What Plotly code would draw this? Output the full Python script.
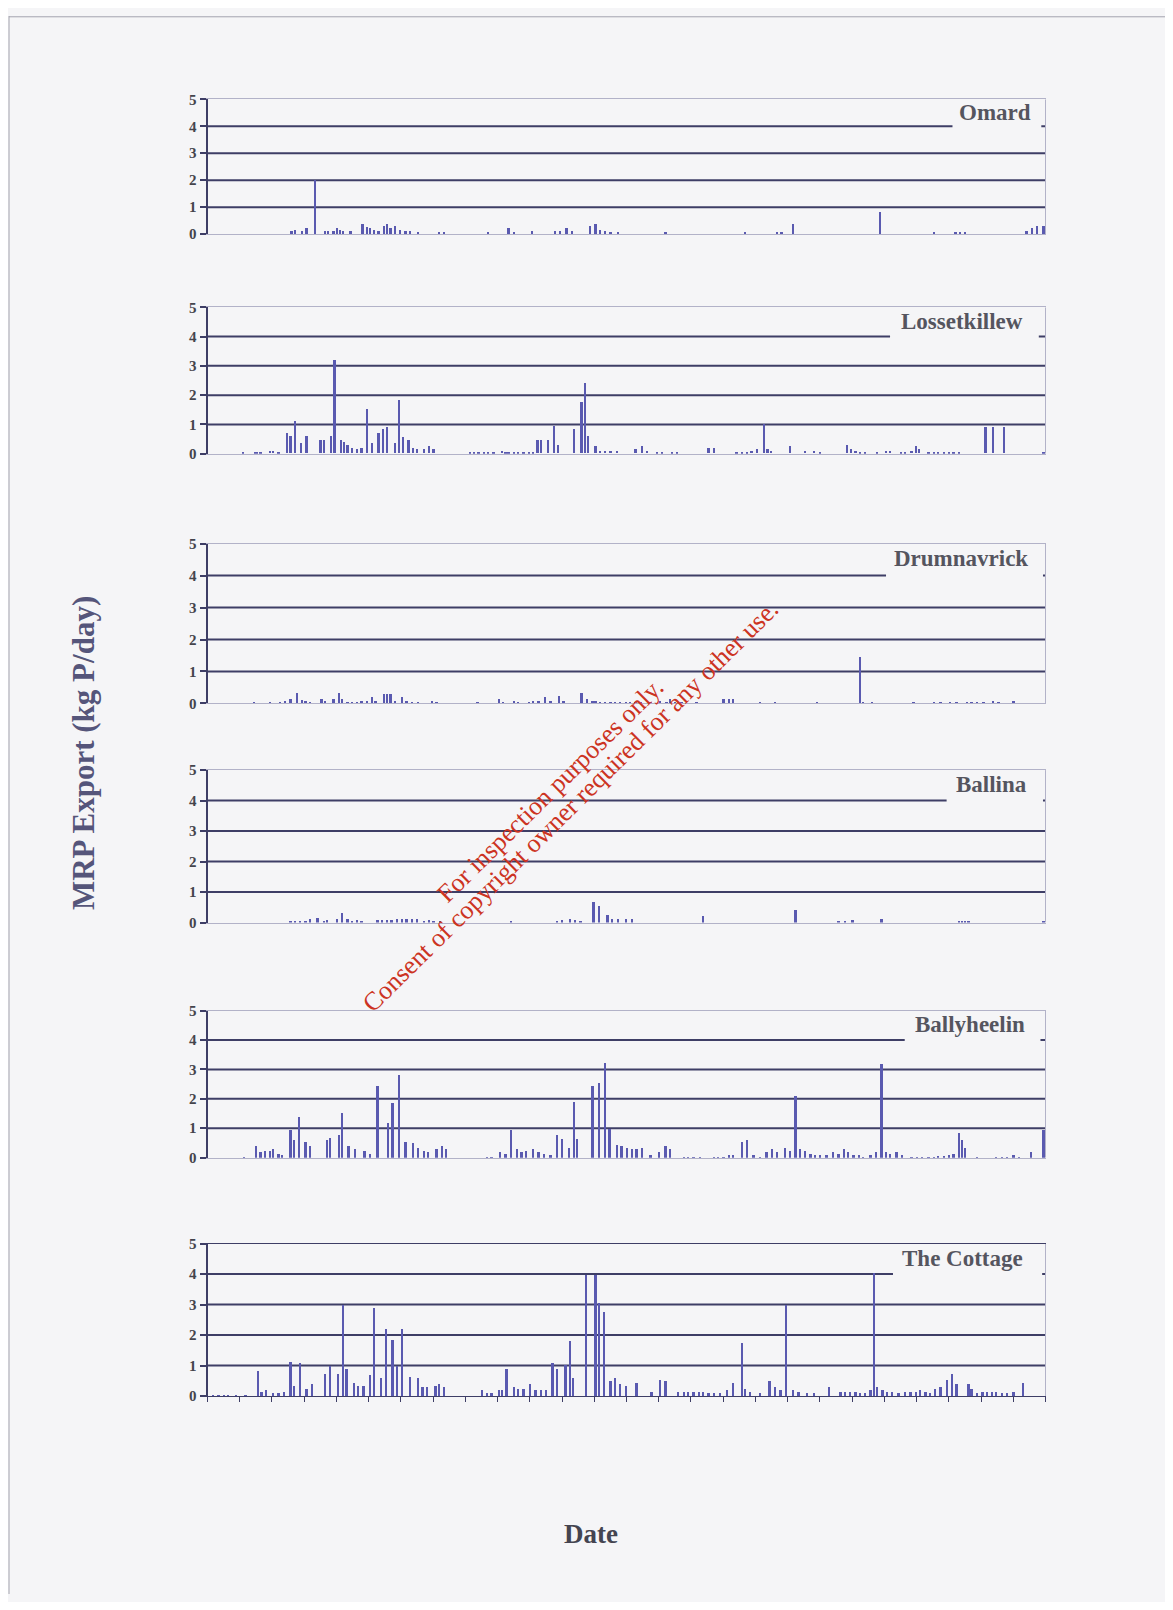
import plotly.graph_objects as go

# ---------------- data (day index, MRP export kg P/day) ----------------
SITES = ["Omard", "Lossetkillew", "Drumnavrick", "Ballina", "Ballyheelin", "The Cottage"]

OMARD = [(78,0.1),(81,0.15),(88,0.1),(92,0.2),(100,2.0),(109,0.1),(112,0.1),(117,0.1),(120,0.2),(123,0.15),
         (126,0.1),(133,0.1),(144,0.35),(148,0.25),(151,0.2),(155,0.15),(159,0.1),(164,0.3),(167,0.35),(170,0.2),
         (174,0.3),(179,0.15),(184,0.1),(188,0.1),(196,0.05),(215,0.05),(220,0.05),(261,0.05),(280,0.2),(285,0.05),
         (302,0.1),(323,0.1),(328,0.1),(334,0.2),(339,0.1),(356,0.3),(361,0.35),(365,0.15),(370,0.1),(375,0.05),
         (382,0.05),(426,0.05),(500,0.05),(530,0.05),(534,0.05),(545,0.37),(626,0.8),(676,0.05),(696,0.05),(700,0.05),
         (705,0.05),(762,0.1),(767,0.2),(772,0.3),(778,0.3)]

LOSSETKILLEW = [(33,0.03),(44,0.05),(46,0.05),(49,0.05),(58,0.1),(61,0.08),(66,0.05),(74,0.7),(77,0.6),(81,1.12),
                (87,0.35),(92,0.6),(105,0.45),(108,0.45),(115,0.6),(118,3.18),(124,0.45),(127,0.4),(130,0.3),(134,0.2),
                (139,0.15),(143,0.2),(148,1.52),(153,0.35),(159,0.7),(163,0.85),(167,0.9),(174,0.35),(178,1.82),(182,0.55),
                (187,0.45),(191,0.2),(195,0.15),(201,0.15),(206,0.25),(210,0.15),(244,0.05),(248,0.05),(252,0.05),(257,0.05),
                (261,0.05),(266,0.05),(274,0.1),(277,0.05),(280,0.05),(285,0.05),(289,0.05),(294,0.05),(299,0.05),(303,0.05),
                (307,0.45),(310,0.45),(317,0.45),(322,0.93),(326,0.3),(341,0.85),(348,1.76),(351,2.4),(354,0.6),(361,0.25),
                (365,0.1),(370,0.1),(375,0.1),(381,0.1),(398,0.15),(404,0.25),(409,0.1),(418,0.05),(423,0.05),(432,0.05),
                (437,0.05),(466,0.2),(471,0.2),(492,0.05),(497,0.05),(502,0.05),(506,0.1),(511,0.15),(518,1.0),(521,0.15),
                (524,0.1),(542,0.25),(556,0.1),(564,0.1),(570,0.05),(595,0.3),(599,0.15),(603,0.1),(607,0.05),(612,0.05),
                (623,0.05),(631,0.08),(635,0.08),(645,0.05),(649,0.05),(655,0.1),(659,0.25),(662,0.15),(671,0.05),(676,0.05),
                (680,0.05),(685,0.05),(690,0.05),(694,0.05),(699,0.05),(724,0.9),(731,0.9),(741,0.9),(778,0.05)]

DRUMNAVRICK = [(43,0.03),(58,0.03),(67,0.05),(72,0.08),(77,0.15),(83,0.35),(88,0.12),(91,0.1),(95,0.05),(106,0.15),
               (109,0.1),(117,0.15),(122,0.35),(125,0.15),(130,0.05),(134,0.05),(139,0.05),(143,0.1),(148,0.1),(153,0.2),
               (156,0.1),(164,0.3),(167,0.3),(170,0.3),(174,0.1),(181,0.2),(185,0.1),(190,0.05),(196,0.05),(209,0.1),
               (213,0.05),(251,0.03),(271,0.15),(275,0.03),(285,0.1),(289,0.05),(299,0.05),(303,0.1),(308,0.1),(314,0.2),
               (319,0.1),(327,0.25),(331,0.1),(348,0.35),(353,0.15),(358,0.1),(361,0.1),(365,0.05),(370,0.05),(375,0.05),
               (379,0.05),(384,0.05),(389,0.05),(393,0.05),(398,0.05),(403,0.05),(412,0.05),(421,0.1),(427,0.05),(430,0.15),
               (435,0.05),(441,0.05),(455,0.05),(480,0.15),(485,0.15),(489,0.15),(514,0.03),(528,0.05),(567,0.03),(607,1.45),
               (610,0.05),(618,0.03),(657,0.03),(676,0.05),(682,0.03),(691,0.05),(697,0.05),(707,0.05),(711,0.05),(716,0.05),
               (722,0.05),(731,0.1),(736,0.05),(750,0.1)]

BALLINA = [(77,0.05),(81,0.05),(86,0.05),(91,0.05),(95,0.1),(102,0.15),(108,0.05),(111,0.08),(120,0.1),(125,0.32),
           (130,0.1),(134,0.05),(139,0.08),(143,0.05),(158,0.08),(162,0.08),(167,0.08),(171,0.08),(176,0.1),(181,0.1),
           (185,0.1),(190,0.1),(195,0.1),(201,0.05),(206,0.08),(210,0.05),(216,0.03),(282,0.03),(325,0.05),(330,0.08),
           (337,0.1),(342,0.08),(347,0.05),(359,0.67),(364,0.55),(372,0.25),(376,0.1),(382,0.1),(389,0.1),(395,0.1),
           (461,0.2),(547,0.42),(587,0.05),(593,0.05),(600,0.08),(627,0.1),(699,0.05),(702,0.05),(705,0.05),(708,0.05),
           (778,0.05)]

BALLYHEELIN = [(34,0.05),(45,0.4),(49,0.2),(53,0.25),(58,0.25),(61,0.3),(66,0.15),(69,0.1),(77,0.96),(80,0.6),
               (85,1.39),(91,0.55),(95,0.4),(111,0.6),(114,0.7),(122,0.8),(125,1.52),(131,0.4),(137,0.3),(146,0.25),
               (151,0.15),(158,2.45),(168,1.2),(172,1.88),(178,2.84),(184,0.55),(191,0.5),(196,0.35),(201,0.25),(205,0.2),
               (213,0.3),(218,0.4),(222,0.3),(260,0.05),(264,0.05),(272,0.2),(277,0.15),(282,0.96),(288,0.3),(292,0.2),
               (296,0.25),(303,0.3),(308,0.2),(313,0.15),(319,0.1),(325,0.8),(330,0.65),(336,0.35),(341,1.92),(344,0.65),
               (358,2.45),(364,2.56),(370,3.22),(374,1.0),(381,0.45),(385,0.4),(390,0.35),(395,0.3),(399,0.3),(404,0.35),
               (412,0.1),(420,0.2),(426,0.4),(430,0.3),(443,0.05),(447,0.05),(452,0.05),(458,0.05),(471,0.05),(475,0.05),
               (480,0.05),(485,0.1),(489,0.1),(497,0.55),(502,0.6),(508,0.1),(514,0.05),(520,0.2),(525,0.3),(530,0.2),
               (537,0.35),(542,0.25),(547,2.1),(551,0.3),(556,0.25),(561,0.15),(565,0.1),(570,0.1),(576,0.1),(582,0.2),
               (587,0.15),(592,0.3),(596,0.2),(601,0.1),(606,0.1),(610,0.05),(617,0.1),(622,0.2),(627,3.2),(631,0.2),
               (635,0.15),(641,0.2),(646,0.1),(655,0.05),(660,0.05),(665,0.05),(671,0.05),(676,0.05),(680,0.08),(685,0.08),
               (690,0.1),(694,0.15),(699,0.85),(702,0.6),(705,0.35),(716,0.05),(734,0.05),(739,0.05),(744,0.05),(750,0.1),
               (755,0.05),(766,0.2),(778,0.95)]

THE_COTTAGE = [(5,0.05),(10,0.05),(15,0.05),(19,0.05),(26,0.03),(35,0.03),(47,0.85),(50,0.15),(54,0.2),(61,0.1),
               (66,0.1),(71,0.15),(77,1.12),(80,0.35),(86,1.1),(92,0.25),(97,0.4),(109,0.75),(114,1.0),(121,0.75),
               (126,3.0),(129,0.9),(136,0.45),(140,0.35),(145,0.35),(151,0.7),(155,2.91),(161,0.6),(166,2.22),(172,1.86),
               (176,1.0),(181,2.2),(188,0.65),(196,0.6),(200,0.3),(204,0.3),(212,0.35),(215,0.4),(220,0.3),(255,0.2),
               (260,0.1),(264,0.1),(271,0.2),(274,0.2),(278,0.9),(285,0.3),(289,0.25),(294,0.25),(300,0.4),(305,0.2),
               (310,0.2),(315,0.2),(321,1.1),(325,0.9),(333,1.05),(337,1.82),(340,0.6),(352,4.0),(361,4.0),(364,3.05),
               (369,2.78),(375,0.5),(379,0.6),(384,0.4),(389,0.35),(399,0.45),(413,0.15),(421,0.55),(426,0.5),(438,0.15),
               (443,0.15),(447,0.15),(452,0.15),(457,0.15),(461,0.15),(466,0.1),(471,0.1),(477,0.1),(483,0.2),(489,0.45),
               (497,1.74),(500,0.25),(505,0.15),(514,0.1),(523,0.5),(528,0.3),(533,0.2),(538,3.0),(545,0.2),(550,0.15),
               (558,0.1),(564,0.1),(578,0.3),(589,0.15),(593,0.15),(598,0.15),(603,0.15),(607,0.1),(612,0.1),(617,0.2),
               (620,4.05),(623,0.3),(628,0.2),(632,0.15),(637,0.15),(643,0.1),(649,0.15),(654,0.15),(659,0.15),(663,0.2),
               (668,0.15),(672,0.1),(677,0.25),(682,0.3),(688,0.55),(693,0.75),(697,0.4),(708,0.4),(711,0.25),(716,0.1),
               (721,0.15),(725,0.15),(730,0.15),(734,0.15),(739,0.1),(744,0.1),(750,0.15),(759,0.45)]

SERIES = [OMARD, LOSSETKILLEW, DRUMNAVRICK, BALLINA, BALLYHEELIN, THE_COTTAGE]
Y_TICKS = [0, 1, 2, 3, 4, 5]
Y_LABEL = "MRP Export (kg P/day)"
X_LABEL = "Date"
WATERMARK_1 = "For inspection purposes only."
WATERMARK_2 = "Consent of copyright owner required for any other use."

# ---------------- layout geometry (page pixels) ----------------
PAGE_W, PAGE_H = 1173, 1610
OFF = 8                       # default body margin of the html page
W, H = PAGE_W - 2 * OFF, PAGE_H - 2 * OFF
V_SCALE, V_SHIFT = 0.991, 7.2  # empirical vertical correction of the capture


def fx(px):
    return (px - OFF) / W


def fy(py):
    p = (py - V_SHIFT) / V_SCALE
    return min(1.0, max(0.0, 1 - (p - OFF) / H))


X_PX = (207.5, 1045.5)
PANEL_PX = [(98.5, 233.5), (306.7, 453.3), (543.3, 703.3), (770.0, 922.7), (1010.7, 1158.0), (1244.0, 1396.7)]
GAPS = [(0.889, 0.995), (0.8145, 0.992), (0.8097, 0.997), (0.882, 0.997), (0.832, 0.994), (0.818, 0.996)]
TITLE_X = [0.985, 0.9755, 0.981, 0.980, 0.9776, 0.9755]

BG = "#f5f5f7"
GRID = "#3e3e66"
LIGHT = "#b2b2c8"
BAR = "#5a5ab0"
SERIF = "Liberation Serif"

fig = go.Figure()
shapes, annotations = [], []
layout = dict(width=W, height=H, margin=dict(l=0, r=0, t=0, b=0),
              paper_bgcolor=BG, plot_bgcolor=BG, showlegend=False, bargap=0)

for i, (name, data) in enumerate(zip(SITES, SERIES)):
    n = i + 1
    s = "" if n == 1 else str(n)
    days = [d for d, v in data]
    vals = [v for d, v in data]
    fig.add_trace(go.Bar(x=days, y=vals, width=1.7, marker=dict(color=BAR, line=dict(width=0)),
                         xaxis="x" + s, yaxis="y" + s, name=name))
    top, bot = PANEL_PX[i]
    layout["xaxis" + s] = dict(domain=[fx(X_PX[0]), fx(X_PX[1])], range=[0, 780], anchor="y" + s,
                               showgrid=False, zeroline=False, showticklabels=False,
                               showline=True, mirror=True,
                               linecolor=GRID if n == 6 else LIGHT, linewidth=1.3 if n == 6 else 1,
                               ticks="outside" if n == 6 else "", tick0=0, dtick=30, ticklen=5,
                               tickwidth=1.2, tickcolor=GRID)
    layout["yaxis" + s] = dict(domain=[fy(bot), fy(top)], range=[0, 5], anchor="x" + s,
                               tickvals=Y_TICKS, showgrid=False, zeroline=False,
                               showline=True, linecolor=GRID, linewidth=2,
                               ticks="outside", ticklen=6, tickwidth=1.5, tickcolor=GRID,
                               tickfont=dict(family=SERIF, size=15, color="#44444c", weight="bold"))
    xr, yr = "x" + s + " domain", "y" + s
    for g in (1, 2, 3):
        shapes.append(dict(type="line", xref=xr, yref=yr, x0=0, x1=1, y0=g, y1=g,
                           line=dict(color=GRID, width=2), layer="below"))
    g0, g1 = GAPS[i]
    shapes.append(dict(type="line", xref=xr, yref=yr, x0=0, x1=g0, y0=4, y1=4,
                       line=dict(color=GRID, width=2), layer="below"))
    shapes.append(dict(type="line", xref=xr, yref=yr, x0=g1, x1=1, y0=4, y1=4,
                       line=dict(color=GRID, width=2), layer="below"))
    shapes.append(dict(type="line", xref=xr, yref=yr, x0=1, x1=1, y0=0, y1=5,
                       line=dict(color=LIGHT, width=1), layer="below"))
    annotations.append(dict(text=name, xref=xr, yref=yr, x=TITLE_X[i], y=4.52,
                            xanchor="right", yanchor="middle", showarrow=False,
                            font=dict(family=SERIF, size=23, color="#55555f", weight="bold")))

# page border
shapes.append(dict(type="line", xref="paper", yref="paper", x0=fx(9.0), x1=fx(9.0), y0=0, y1=1,
                   line=dict(color="#a4a4ae", width=1)))
shapes.append(dict(type="line", xref="paper", yref="paper", x0=fx(9.0), x1=1, y0=0.9995, y1=0.9995,
                   line=dict(color="#a4a4ae", width=1)))

annotations.append(dict(text=Y_LABEL, xref="paper", yref="paper", x=fx(83), y=fy(753),
                        textangle=-90, showarrow=False, xanchor="center", yanchor="middle",
                        font=dict(family=SERIF, size=31, color="#55557a", weight="bold")))
annotations.append(dict(text=X_LABEL, xref="paper", yref="paper", x=fx(591), y=fy(1535),
                        showarrow=False, xanchor="center", yanchor="middle",
                        font=dict(family=SERIF, size=27, color="#444450", weight="bold")))
annotations.append(dict(text=WATERMARK_1, xref="paper", yref="paper", x=fx(550), y=fy(790),
                        textangle=-44.7, showarrow=False, xanchor="center", yanchor="middle",
                        font=dict(family=SERIF, size=26, color="#cc3322")))
annotations.append(dict(text=WATERMARK_2, xref="paper", yref="paper", x=fx(570), y=fy(806),
                        textangle=-44.7, showarrow=False, xanchor="center", yanchor="middle",
                        font=dict(family=SERIF, size=26, color="#cc3322")))

layout["shapes"] = shapes
layout["annotations"] = annotations
fig.update_layout(**layout)
fig.write_html("out.html")
